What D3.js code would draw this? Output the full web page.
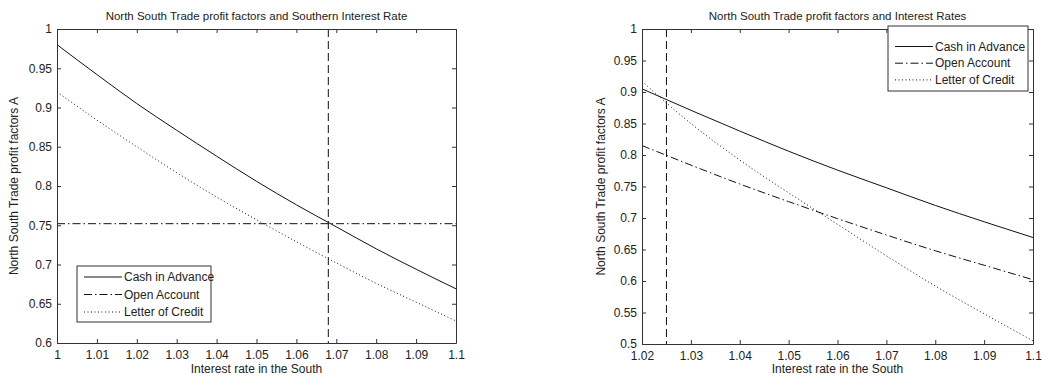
<!DOCTYPE html>
<html>
<head>
<meta charset="utf-8">
<script src="https://cdn.jsdelivr.net/npm/d3@7"></script>
<style>
body { margin:0; background:#fff; }
svg { font-family: "Liberation Sans", Arial, sans-serif; }
.tick text { font-size:12px; fill:#222; }
</style>
</head>
<body>
<svg id="chart"></svg>
<script>
// left panel: profit factors vs southern interest rate
var leftRates = [1, 1.01, 1.02, 1.03, 1.04, 1.05, 1.06, 1.07, 1.08, 1.09, 1.1]
var leftCash  = [0.980, 0.942, 0.905, 0.871, 0.838, 0.806, 0.776, 0.748, 0.720, 0.694, 0.669]
var leftOpenRates = [1, 1.1]
var leftOpen  = [0.752, 0.752]
var leftLC    = [0.920, 0.884, 0.850, 0.817, 0.786, 0.757, 0.729, 0.702, 0.676, 0.652, 0.628]
var leftMark  = 1.068
var leftXTicks = [1, 1.01, 1.02, 1.03, 1.04, 1.05, 1.06, 1.07, 1.08, 1.09, 1.1]
var leftYTicks = [0.6, 0.65, 0.7, 0.75, 0.8, 0.85, 0.9, 0.95, 1]

// right panel: profit factors vs interest rates
var rightRates = [1.02, 1.03, 1.04, 1.05, 1.06, 1.07, 1.08, 1.09, 1.1]
var rightCash  = [0.905, 0.871, 0.838, 0.806, 0.776, 0.748, 0.720, 0.694, 0.669]
var rightOpen  = [0.815, 0.784, 0.754, 0.726, 0.699, 0.673, 0.648, 0.625, 0.602]
var rightLC    = [0.917, 0.850, 0.792, 0.740, 0.690, 0.640, 0.592, 0.548, 0.505]
var rightMark  = 1.025
var rightXTicks = [1.02, 1.03, 1.04, 1.05, 1.06, 1.07, 1.08, 1.09, 1.1]
var rightYTicks = [0.5, 0.55, 0.6, 0.65, 0.7, 0.75, 0.8, 0.85, 0.9, 0.95, 1]

var legendNames = ["Cash in Advance", "Open Account", "Letter of Credit"]
var dashes = {solid:null, dashdot:"8,3,1.5,3", dotted:"1,2.5", dashed:"8,4"}

var svg = d3.select("#chart").attr("width", 1053).attr("height", 380)

var fmt = function(d){ return String(+d.toFixed(2)) }

var drawPanel = function(p)
{
    var xScale = d3.scaleLinear().domain(p.xDomain).range([p.left, p.right])
    var yScale = d3.scaleLinear().domain(p.yDomain).range([p.bottom, p.top])
    var g = svg.append("g")

    // series
    var line = d3.line()
        .x(function(d){ return xScale(d[0]) })
        .y(function(d){ return yScale(d[1]) })
        .curve(d3.curveMonotoneX)
    p.series.forEach(function(s){
        g.append("path")
            .datum(d3.zip(s.x, s.y))
            .attr("d", line)
            .attr("fill", "none")
            .attr("stroke", "#111")
            .attr("stroke-width", 1)
            .attr("stroke-dasharray", dashes[s.style])
    })
    // vertical marker
    g.append("line")
        .attr("x1", xScale(p.mark)).attr("x2", xScale(p.mark))
        .attr("y1", p.top).attr("y2", p.bottom)
        .attr("stroke", "#111")
        .attr("stroke-dasharray", dashes.dashed)

    // axes, MATLAB style box with inward ticks
    var ax = function(axis, tx, ty, labels){
        var a = g.append("g").attr("transform", "translate(" + tx + "," + ty + ")")
            .call(axis.tickSizeInner(-4).tickSizeOuter(0).tickPadding(labels ? 5 : 0)
                .tickFormat(labels ? fmt : ""))
        a.selectAll("path.domain").attr("stroke", "#333")
        a.selectAll(".tick line").attr("stroke", "#333")
        return a
    }
    var xb = ax(d3.axisBottom(xScale).tickValues(p.xTicks), 0, p.bottom, true)
    xb.selectAll(".tick text").attr("dy", "0.9em")
    ax(d3.axisTop(xScale).tickValues(p.xTicks), 0, p.top, false)
    ax(d3.axisLeft(yScale).tickValues(p.yTicks), p.left, 0, true)
    ax(d3.axisRight(yScale).tickValues(p.yTicks), p.right, 0, false)

    // labels
    g.append("text")
        .text(p.title)
        .attr("text-anchor", "middle")
        .attr("x", (p.left + p.right) / 2)
        .attr("y", 20)
        .style("font-size", "11.5px")
        .attr("fill", "#222")
    g.append("text")
        .text("Interest rate in the South")
        .attr("text-anchor", "middle")
        .attr("x", (p.left + p.right) / 2)
        .attr("y", 373)
        .style("font-size", "12px")
        .attr("fill", "#222")
    g.append("g")
        .attr("transform", "translate(" + p.ylabelX + "," + ((p.top + p.bottom) / 2) + ")")
        .append("text")
        .text("North South Trade profit factors A")
        .attr("text-anchor", "middle")
        .attr("transform", "rotate(270)")
        .style("font-size", "12px")
        .attr("fill", "#222")

    // legend
    var L = p.legend
    var lg = g.append("g")
    lg.append("rect")
        .attr("x", L.x).attr("y", L.y).attr("width", L.w).attr("height", L.h)
        .attr("fill", "#fff").attr("stroke", "#333")
    p.series.forEach(function(s, i){
        var yy = L.y + L.first + i * L.step
        lg.append("line")
            .attr("x1", L.x + 7).attr("x2", L.x + 45)
            .attr("y1", yy).attr("y2", yy)
            .attr("stroke", "#111")
            .attr("stroke-dasharray", dashes[s.style])
        lg.append("text")
            .text(legendNames[i])
            .attr("x", L.x + 47).attr("y", yy + 4)
            .style("font-size", "12px")
            .attr("fill", "#222")
    })
}

drawPanel({
    left:57, right:456, top:29, bottom:343,
    xDomain:[1, 1.1], yDomain:[0.6, 1],
    xTicks:leftXTicks, yTicks:leftYTicks,
    mark:leftMark, ylabelX:18,
    title:"North South Trade profit factors and Southern Interest Rate",
    series:[
        {x:leftRates, y:leftCash, style:"solid"},
        {x:leftOpenRates, y:leftOpen, style:"dashdot"},
        {x:leftRates, y:leftLC, style:"dotted"}
    ],
    legend:{x:77, y:266, w:134, h:56, first:11, step:17.5}
})

drawPanel({
    left:642, right:1033, top:29, bottom:344,
    xDomain:[1.02, 1.1], yDomain:[0.5, 1],
    xTicks:rightXTicks, yTicks:rightYTicks,
    mark:rightMark, ylabelX:605,
    title:"North South Trade profit factors and Interest Rates",
    series:[
        {x:rightRates, y:rightCash, style:"solid"},
        {x:rightRates, y:rightOpen, style:"dashdot"},
        {x:rightRates, y:rightLC, style:"dotted"}
    ],
    legend:{x:888, y:26, w:140, h:65, first:20.5, step:16.7}
})
</script>
</body>
</html>
